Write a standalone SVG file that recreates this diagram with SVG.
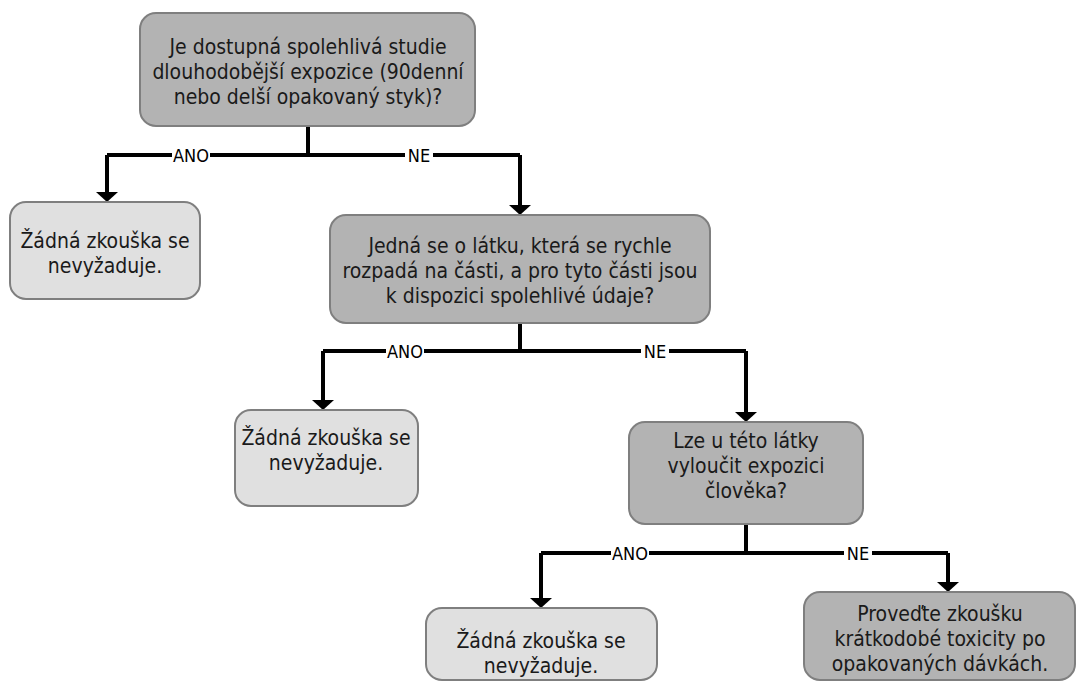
<svg xmlns="http://www.w3.org/2000/svg" width="1077" height="681" viewBox="0 0 1077 681">
  <defs>
    <style>
      .box { stroke: #7f7f7f; stroke-width: 2; }
      .q { fill: #b3b3b3; }
      .a { fill: #e0e0e0; }
      .t { font-family: "DejaVu Sans Condensed", "DejaVu Sans", sans-serif; font-stretch: condensed; font-size: 21px; fill: #1a1a1a; text-anchor: middle; }
      .wire { fill: none; stroke: #000; stroke-width: 4; }
      .lbl { font-family: "DejaVu Sans Condensed", "DejaVu Sans", sans-serif; font-stretch: condensed; font-size: 18px; fill: #000; text-anchor: middle; }
      .lblbg { fill: #fff; }
    </style>
    <!-- downward arrowhead: tip sits 8px past the end of the line -->
    <marker id="arrow" markerUnits="userSpaceOnUse" markerWidth="10" markerHeight="22" refX="2" refY="11" orient="auto" viewBox="0 0 10 22">
      <path d="M0,0 L10,11 L0,22 Z" fill="#000"/>
    </marker>
  </defs>

  <!-- connectors -->
  <g id="connectors">
    <path class="wire" d="M308,126 V155"/>
    <path class="wire" d="M107,155 H520"/>
    <path class="wire" d="M107,155 V194" marker-end="url(#arrow)"/>
    <path class="wire" d="M520,155 V207" marker-end="url(#arrow)"/>

    <path class="wire" d="M520,323 V351"/>
    <path class="wire" d="M323,351 H746"/>
    <path class="wire" d="M323,351 V402" marker-end="url(#arrow)"/>
    <path class="wire" d="M746,351 V414" marker-end="url(#arrow)"/>

    <path class="wire" d="M746,524 V553"/>
    <path class="wire" d="M541,553 H948"/>
    <path class="wire" d="M541,553 V600" marker-end="url(#arrow)"/>
    <path class="wire" d="M948,553 V584" marker-end="url(#arrow)"/>

    <!-- branch labels -->
    <rect class="lblbg" x="172" y="144" width="38" height="22"/>
    <text class="lbl" x="191" y="162">ANO</text>
    <rect class="lblbg" x="405" y="144" width="28" height="22"/>
    <text class="lbl" x="419" y="162">NE</text>

    <rect class="lblbg" x="386" y="340" width="38" height="22"/>
    <text class="lbl" x="405" y="358">ANO</text>
    <rect class="lblbg" x="641" y="340" width="28" height="22"/>
    <text class="lbl" x="655" y="358">NE</text>

    <rect class="lblbg" x="611" y="542" width="38" height="22"/>
    <text class="lbl" x="630" y="560">ANO</text>
    <rect class="lblbg" x="844" y="542" width="28" height="22"/>
    <text class="lbl" x="858" y="560">NE</text>
  </g>

  <!-- question: long-term study -->
  <g id="q1">
    <rect class="box q" x="140" y="13" width="335" height="113" rx="16"/>
    <text class="t" x="308" y="54">Je dostupná spolehlivá studie</text>
    <text class="t" x="308" y="79">dlouhodobější expozice (90denní</text>
    <text class="t" x="308" y="104">nebo delší opakovaný styk)?</text>
  </g>

  <g id="r1">
    <rect class="box a" x="10" y="202" width="190" height="97" rx="16"/>
    <text class="t" x="105" y="248">Žádná zkouška se</text>
    <text class="t" x="105" y="273">nevyžaduje.</text>
  </g>

  <!-- question: rapid breakdown -->
  <g id="q2">
    <rect class="box q" x="330" y="215" width="380" height="108" rx="16"/>
    <text class="t" x="520" y="253">Jedná se o látku, která se rychle</text>
    <text class="t" x="520" y="278">rozpadá na části, a pro tyto části jsou</text>
    <text class="t" x="520" y="303">k dispozici spolehlivé údaje?</text>
  </g>

  <g id="r2">
    <rect class="box a" x="235" y="410" width="183" height="96" rx="16"/>
    <text class="t" x="326" y="445">Žádná zkouška se</text>
    <text class="t" x="326" y="470">nevyžaduje.</text>
  </g>

  <!-- question: human exposure -->
  <g id="q3">
    <rect class="box q" x="629" y="422" width="234" height="102" rx="16"/>
    <text class="t" x="746" y="448">Lze u této látky</text>
    <text class="t" x="746" y="473">vyloučit expozici</text>
    <text class="t" x="746" y="498">člověka?</text>
  </g>

  <g id="r3">
    <rect class="box a" x="426" y="608" width="231" height="72" rx="16"/>
    <text class="t" x="541" y="648">Žádná zkouška se</text>
    <text class="t" x="541" y="673">nevyžaduje.</text>
  </g>

  <!-- action: short-term repeated dose test -->
  <g id="r4">
    <rect class="box q" x="804" y="592" width="271" height="88" rx="16"/>
    <text class="t" x="940" y="621">Proveďte zkoušku</text>
    <text class="t" x="940" y="646">krátkodobé toxicity po</text>
    <text class="t" x="940" y="671">opakovaných dávkách.</text>
  </g>
</svg>
